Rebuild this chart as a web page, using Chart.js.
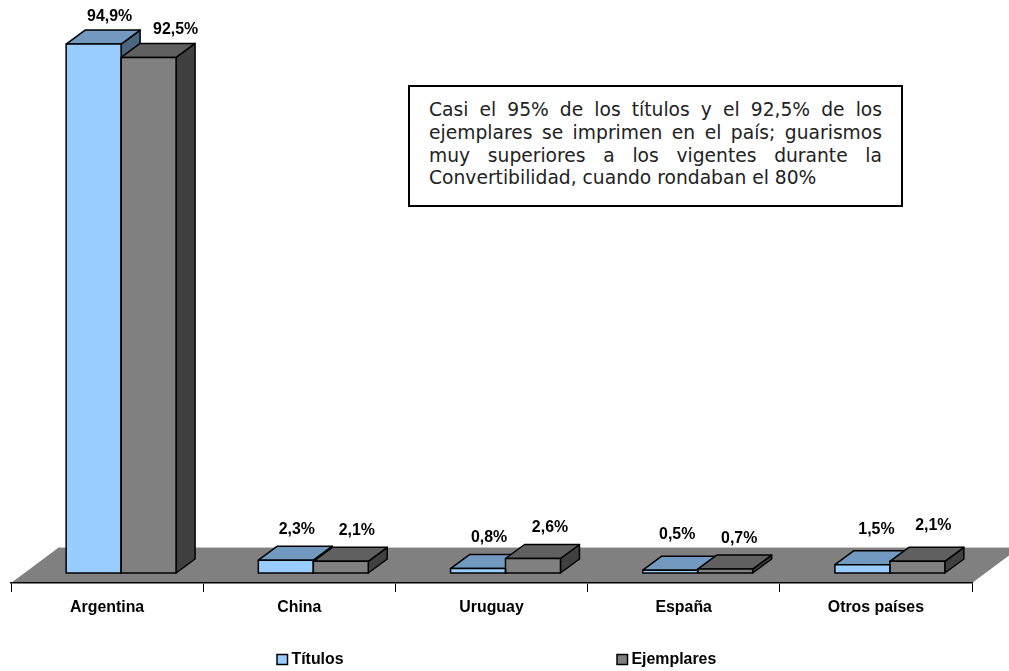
<!DOCTYPE html>
<html>
<head>
<meta charset="utf-8">
<title>Títulos y ejemplares</title>
<script src="https://cdn.jsdelivr.net/npm/chart.js@4"></script>
<style>
  html, body { margin: 0; padding: 0; background: #fff; }
  #wrap { position: relative; width: 1009px; height: 671px; overflow: hidden; }
  #chart { position: absolute; left: 0; top: 0; }
  #note {
    position: absolute; left: 408px; top: 85px; width: 491px; height: 118px;
    border: 2px solid #000; background: #fff; box-sizing: content-box;
    font: 18.7px/22.8px "DejaVu Sans", sans-serif; color: #222;
  }
  #note div { position: absolute; left: 19px; width: 453px; text-align: justify; text-align-last: justify; white-space: nowrap; }
  #note div.last { text-align-last: left; }
</style>
</head>
<body>
<div id="wrap">
  <canvas id="chart" width="1009" height="671"></canvas>
  <div id="note">
    <div style="top:12px">Casi el 95% de los títulos y el 92,5% de los</div>
    <div style="top:35px">ejemplares se imprimen en el país; guarismos</div>
    <div style="top:58px">muy superiores a los vigentes durante la</div>
    <div class="last" style="top:80px">Convertibilidad, cuando rondaban el 80%</div>
  </div>
</div>
<script>
const categories = ['Argentina', 'China', 'Uruguay', 'España', 'Otros países'];
const titulos = [94.9, 2.3, 0.8, 0.5, 1.5];
const ejemplares = [92.5, 2.1, 2.6, 0.7, 2.1];

// hand placed data labels in the original, [dx, dy] from the top of each bar
const titulosNudge = [[16, -27], [11, -31], [11, -31], [7, -36], [14, -35]];
const ejemplaresNudge = [[27, -28], [16, -31], [17, -31], [14, -30], [16, -36]];

const labelFont = 'bold 15.9px "Liberation Sans", Arial, sans-serif';

// fake 3D: how far the bars sit from the axis and how deep they are
const barShift = { x: 14, y: -10 };
const barDepth = { x: 19, y: 14 };
const floorDepth = { x: 47, y: 35 };

function fmt(v) {
  return v.toFixed(1).replace('.', ',') + '%';
}

function poly(ctx, pts, fill) {
  ctx.beginPath();
  pts.forEach((p, i) => i ? ctx.lineTo(p[0], p[1]) : ctx.moveTo(p[0], p[1]));
  ctx.closePath();
  ctx.fillStyle = fill;
  ctx.fill();
  ctx.stroke();
}

const floorPlugin = {
  id: 'floor',
  beforeDraw(chart) {
    const { ctx, chartArea: a } = chart;
    ctx.save();
    ctx.strokeStyle = '#c8c8c8';
    ctx.lineWidth = 1;
    ctx.beginPath();
    ctx.moveTo(a.left + floorDepth.x, a.bottom - floorDepth.y - 0.5);
    ctx.lineTo(a.right + floorDepth.x, a.bottom - floorDepth.y - 0.5);
    ctx.stroke();
    ctx.beginPath();
    ctx.moveTo(a.left, a.bottom);
    ctx.lineTo(a.left + floorDepth.x, a.bottom - floorDepth.y);
    ctx.lineTo(a.right + floorDepth.x, a.bottom - floorDepth.y);
    ctx.lineTo(a.right, a.bottom);
    ctx.closePath();
    ctx.fillStyle = '#808080';
    ctx.fill();
    ctx.restore();
  }
};

const bars3d = {
  id: 'bars3d',
  beforeDatasetsDraw(chart) {
    const ctx = chart.ctx;
    ctx.save();
    ctx.translate(barShift.x, barShift.y);
    ctx.strokeStyle = '#000';
    ctx.lineWidth = 1.5;
    ctx.lineJoin = 'round';
    chart.data.datasets.forEach((ds, i) => {
      chart.getDatasetMeta(i).data.forEach(el => {
        const l = el.x - el.width / 2, r = el.x + el.width / 2;
        const d = barDepth;
        poly(ctx, [[r, el.y], [r + d.x, el.y - d.y], [r + d.x, el.base - d.y], [r, el.base]], ds.sideColor);
        poly(ctx, [[l, el.y], [l + d.x, el.y - d.y], [r + d.x, el.y - d.y], [r, el.y]], ds.topColor);
      });
    });
  },
  afterDatasetsDraw(chart) {
    const ctx = chart.ctx;
    chart.data.datasets.forEach((ds, i) => {
      chart.getDatasetMeta(i).data.forEach((el, j) => {
        ctx.strokeRect(el.x - el.width / 2, el.y, el.width, el.base - el.y);
        const n = ds.nudge[j];
        ctx.fillStyle = '#000';
        ctx.font = labelFont;
        ctx.textAlign = 'center';
        ctx.textBaseline = 'middle';
        ctx.fillText(fmt(ds.data[j]), el.x + n[0], el.y + n[1]);
      });
    });
    ctx.restore();

    // legend is spread much wider than the built in one allows
    const spots = [{ box: 277, text: 291.5 }, { box: 617, text: 631.5 }];
    ctx.save();
    ctx.font = labelFont;
    ctx.textBaseline = 'middle';
    ctx.textAlign = 'left';
    ctx.lineWidth = 1.5;
    ctx.strokeStyle = '#000';
    chart.data.datasets.forEach((ds, i) => {
      ctx.fillStyle = ds.backgroundColor;
      ctx.fillRect(spots[i].box, 654.5, 10.5, 10);
      ctx.strokeRect(spots[i].box, 654.5, 10.5, 10);
      ctx.fillStyle = '#000';
      ctx.fillText(ds.label, spots[i].text, 660);
    });
    ctx.restore();
  }
};

new Chart(document.getElementById('chart').getContext('2d'), {
  type: 'bar',
  data: {
    labels: categories,
    datasets: [
      { label: 'Títulos', data: titulos, nudge: titulosNudge, backgroundColor: '#99ccff', topColor: '#7299bf', sideColor: '#4d6680', clip: false },
      { label: 'Ejemplares', data: ejemplares, nudge: ejemplaresNudge, backgroundColor: '#808080', topColor: '#606060', sideColor: '#404040', clip: false }
    ]
  },
  plugins: [floorPlugin, bars3d],
  options: {
    responsive: false,
    animation: false,
    layout: { padding: { left: 11, right: 37, top: 25.6, bottom: 0 } },
    datasets: { bar: { barPercentage: 1, categoryPercentage: 0.572, borderWidth: 0 } },
    plugins: { legend: { display: false }, tooltip: { enabled: false }, title: { display: false } },
    scales: {
      x: {
        afterFit: scale => { scale.height = 88; },
        border: { color: '#000', width: 1.5 },
        grid: { drawOnChartArea: false, color: '#000', lineWidth: 1, tickLength: 9 },
        ticks: { color: '#000', padding: 6, maxRotation: 0, font: { family: '"Liberation Sans", Arial, sans-serif', size: 15.9, weight: 'bold' } }
      },
      y: { display: false, min: 0, max: 100 }
    }
  }
});
</script>
</body>
</html>
